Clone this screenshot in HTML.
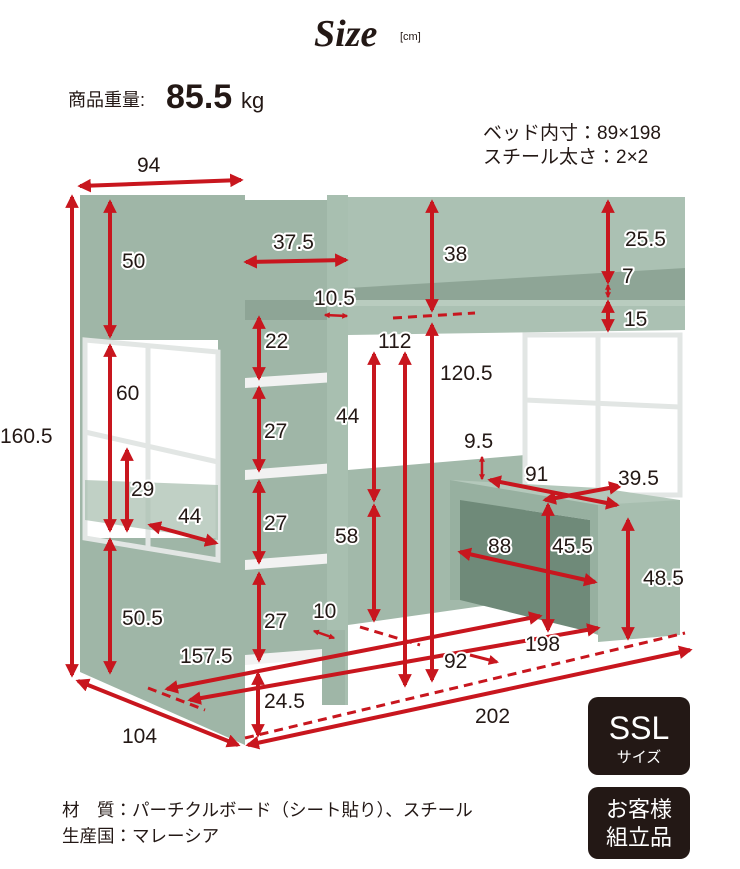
<!DOCTYPE html>
<html><head><meta charset="utf-8"><style>
html,body{margin:0;padding:0;background:#fff;}
svg{display:block;}
.t{font-family:"Liberation Sans","Noto Sans CJK JP",sans-serif;fill:#231815;}
.d{font-family:"Liberation Sans Narrow","Liberation Sans",sans-serif;font-size:21px;fill:#231815;stroke:#fff;stroke-width:4px;paint-order:stroke;stroke-linejoin:round;}
.a{stroke:#c8161e;stroke-width:4;fill:none;marker-start:url(#m);marker-end:url(#m);}
.b{stroke:#c8161e;stroke-width:2.5;fill:none;marker-start:url(#n);marker-end:url(#n);}
.s{stroke:#c8161e;stroke-width:3;fill:none;marker-end:url(#m);}
.dash{stroke:#c8161e;stroke-width:3;fill:none;stroke-dasharray:9 6;}
</style></head><body>
<svg width="740" height="869" viewBox="0 0 740 869" xmlns="http://www.w3.org/2000/svg">
<defs>
<marker id="m" viewBox="0 0 10 10" refX="8" refY="5" markerWidth="3.4" markerHeight="3.4" orient="auto-start-reverse">
<path d="M0,0 L10,5 L0,10 z" fill="#c8161e"/></marker>
<marker id="n" viewBox="0 0 10 10" refX="8" refY="5" markerWidth="2.4" markerHeight="2.4" orient="auto-start-reverse">
<path d="M0,0 L10,5 L0,10 z" fill="#c8161e"/></marker>
</defs>
<!-- title -->
<text x="314" y="46" class="t" style="font-family:'Liberation Serif',serif;font-style:italic;font-weight:bold;font-size:38px">Size</text>
<text x="400" y="40" class="t" style="font-size:11px">[cm]</text>
<text x="68" y="106" class="t" style="font-size:18px">商品重量:</text>
<text x="166" y="108" class="t" style="font-size:34px;font-weight:bold">85.5</text>
<text x="241" y="108" class="t" style="font-size:22px">kg</text>
<text x="483" y="139" class="t" style="font-size:19px">ベッド内寸：89×198</text>
<text x="483" y="163" class="t" style="font-size:19px">スチール太さ：2×2</text>

<polygon points="348,330 530,335 530,460 348,470" fill="#fff"/>
<polygon points="348,470 525,455 525,600 348,625" fill="#a2b9aa"/>
<rect x="245" y="200" width="85" height="460" fill="#9fb6a7"/>
<rect x="245" y="300" width="85" height="20" fill="#8ea596"/>
<polygon points="245,378 335,372 335,382 245,388" fill="#f2f2f2"/>
<polygon points="245,470 335,463 335,473 245,480" fill="#f2f2f2"/>
<polygon points="245,560 335,553 335,563 245,570" fill="#f2f2f2"/>
<polygon points="245,655 335,648 335,658 245,665" fill="#f2f2f2"/>
<rect x="327" y="195" width="21" height="510" fill="#a8bfb0"/>
<polygon points="348,197 685,197 685,330 348,335" fill="#abc1b3"/>
<polygon points="348,288 685,268 685,300 348,300" fill="#8ea596"/>
<polygon points="348,300 685,300 685,306 348,306" fill="#b9ccbf"/>
<rect x="525" y="335" width="155" height="160" fill="#fff"/>
<g stroke="#e2e6e4" stroke-width="5" fill="none">
<rect x="525" y="335" width="155" height="160"/>
<line x1="598" y1="335" x2="598" y2="490"/><line x1="525" y1="400" x2="680" y2="407"/>
</g>
<polygon points="450,480 612,500 612,640 590,632 590,520 460,500 460,600 450,600" fill="#97b0a0"/>
<polygon points="460,500 590,520 590,632 460,600" fill="#6f8a79"/>
<polygon points="598,500 680,500 680,635 598,642" fill="#a7beaf"/>
<polygon points="450,480 600,488 680,500 598,505" fill="#b4c8bb"/>
<polygon points="80,195 245,195 245,745 80,672" fill="#9fb6a7"/>
<rect x="85" y="340" width="133" height="198" fill="#fff"/>
<g stroke="#e2e6e4" stroke-width="5" fill="none">
<polygon points="85,340 218,352 218,560 85,538"/>
<line x1="148" y1="345" x2="148" y2="548"/><line x1="85" y1="432" x2="218" y2="462"/>
</g>
<polygon points="85,480 218,485 218,540 85,520" fill="#a5bcad" opacity="0.7"/>
<rect x="322" y="630" width="23" height="75" fill="#9fb6a7"/>

<line class="dash" x1="245" y1="738" x2="685" y2="633"/>
<line class="dash" x1="148" y1="688" x2="205" y2="710"/>
<line class="dash" x1="393" y1="318" x2="475" y2="313"/>
<line class="dash" x1="360" y1="627" x2="420" y2="645"/>

<line class="a" x1="80" y1="186" x2="241" y2="180"/>
<line class="a" x1="72" y1="197" x2="72" y2="675"/>
<line class="a" x1="110" y1="202" x2="110" y2="336"/>
<line class="a" x1="110" y1="346" x2="110" y2="530"/>
<line class="a" x1="127" y1="450" x2="127" y2="530"/>
<line class="a" x1="150" y1="525" x2="216" y2="543"/>
<line class="a" x1="110" y1="540" x2="110" y2="672"/>
<line class="a" x1="78" y1="681" x2="238" y2="745"/>
<line class="a" x1="246" y1="262" x2="346" y2="260"/>
<line class="b" x1="325" y1="315" x2="347" y2="316"/>
<line class="a" x1="259" y1="318" x2="259" y2="378"/>
<line class="a" x1="259" y1="388" x2="259" y2="470"/>
<line class="a" x1="259" y1="482" x2="259" y2="562"/>
<line class="a" x1="259" y1="574" x2="259" y2="660"/>
<line class="a" x1="374" y1="354" x2="374" y2="500"/>
<line class="a" x1="374" y1="506" x2="374" y2="620"/>
<line class="b" x1="314" y1="631" x2="334" y2="638"/>
<line class="a" x1="432" y1="202" x2="432" y2="310"/>
<line class="a" x1="432" y1="325" x2="432" y2="680"/>
<line class="a" x1="405" y1="354" x2="405" y2="685"/>
<line class="a" x1="608" y1="202" x2="608" y2="282"/>
<line class="b" x1="608" y1="285" x2="608" y2="297"/>
<line class="a" x1="608" y1="302" x2="608" y2="330"/>
<line class="b" x1="482" y1="457" x2="482" y2="479"/>
<line class="a" x1="490" y1="480" x2="617" y2="505"/>
<line class="a" x1="545" y1="500" x2="620" y2="486"/>
<line class="a" x1="548" y1="505" x2="548" y2="630"/>
<line class="a" x1="460" y1="552" x2="595" y2="582"/>
<line class="a" x1="628" y1="520" x2="628" y2="638"/>
<line class="a" x1="167" y1="689" x2="540" y2="616"/>
<line class="a" x1="190" y1="700" x2="598" y2="628"/>
<line class="s" x1="470" y1="655" x2="497" y2="662"/>
<line class="a" x1="258" y1="674" x2="258" y2="735"/>
<line class="a" x1="248" y1="745" x2="690" y2="650"/>

<text class="d" x="137" y="172">94</text>
<text class="d" x="0" y="443">160.5</text>
<text class="d" x="122" y="268">50</text>
<text class="d" x="116" y="400">60</text>
<text class="d" x="131" y="496">29</text>
<text class="d" x="178" y="523">44</text>
<text class="d" x="122" y="625">50.5</text>
<text class="d" x="122" y="743">104</text>
<text class="d" x="273" y="249">37.5</text>
<text class="d" x="314" y="305">10.5</text>
<text class="d" x="265" y="348">22</text>
<text class="d" x="264" y="438">27</text>
<text class="d" x="264" y="530">27</text>
<text class="d" x="264" y="628">27</text>
<text class="d" x="336" y="423">44</text>
<text class="d" x="335" y="543">58</text>
<text class="d" x="313" y="618">10</text>
<text class="d" x="444" y="261">38</text>
<text class="d" x="378" y="348">112</text>
<text class="d" x="440" y="380">120.5</text>
<text class="d" x="625" y="246">25.5</text>
<text class="d" x="622" y="283">7</text>
<text class="d" x="624" y="326">15</text>
<text class="d" x="464" y="448">9.5</text>
<text class="d" x="525" y="481">91</text>
<text class="d" x="618" y="485">39.5</text>
<text class="d" x="488" y="553">88</text>
<text class="d" x="552" y="553">45.5</text>
<text class="d" x="643" y="585">48.5</text>
<text class="d" x="525" y="651">198</text>
<text class="d" x="444" y="668">92</text>
<text class="d" x="180" y="663">157.5</text>
<text class="d" x="264" y="708">24.5</text>
<text class="d" x="475" y="723">202</text>

<rect x="588" y="697" width="102" height="78" rx="10" fill="#231815"/>
<text x="639" y="739" text-anchor="middle" style="font-family:'Liberation Sans',sans-serif;font-size:32px;fill:#fff">SSL</text>
<text x="639" y="762" text-anchor="middle" style="font-family:'Noto Sans CJK JP',sans-serif;font-size:15px;fill:#fff">サイズ</text>
<rect x="588" y="787" width="102" height="72" rx="10" fill="#231815"/>
<text x="639" y="817" text-anchor="middle" style="font-family:'Noto Sans CJK JP',sans-serif;font-size:22px;fill:#fff">お客様</text>
<text x="639" y="845" text-anchor="middle" style="font-family:'Noto Sans CJK JP',sans-serif;font-size:22px;fill:#fff">組立品</text>

<text x="62" y="816" class="t" style="font-size:17.5px">材　質：パーチクルボード（シート貼り）、スチール</text>
<text x="62" y="842" class="t" style="font-size:17.5px">生産国：マレーシア</text>
</svg>
</body></html>
